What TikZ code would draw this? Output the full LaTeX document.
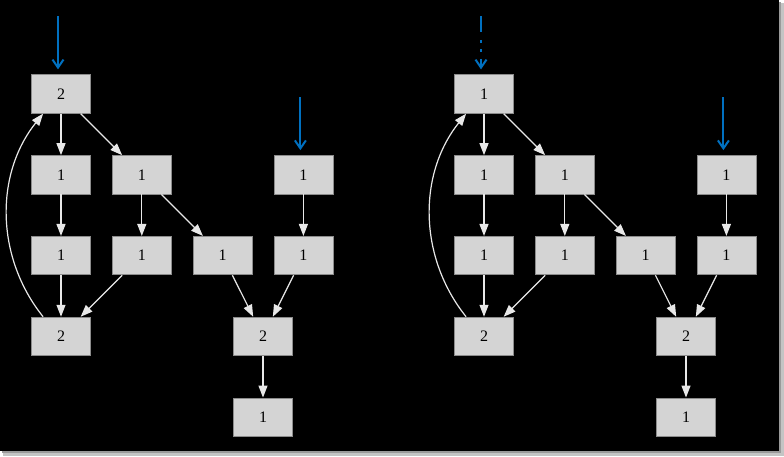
\documentclass[tikz,border=0pt]{standalone}
\usepackage{fontspec}
\setmainfont{Liberation Serif}
\usepackage{tikz}
\usetikzlibrary{arrows.meta,positioning,calc}
\definecolor{nodefill}{HTML}{D4D4D4}
\definecolor{nodedraw}{HTML}{8C8C8C}
\definecolor{edgec}{HTML}{E8E8E8}
\definecolor{entryc}{HTML}{0070C0}
\definecolor{shadowa}{HTML}{C4C4C4}
\definecolor{shadowb}{HTML}{9A9A9A}
\tikzset{
  box/.style={draw=nodedraw,fill=nodefill,minimum width=59pt,minimum height=38.5pt,
    inner sep=0pt,font=\fontsize{16}{16}\selectfont,text=black,line width=0.8pt},
  edge/.style={-{Triangle[length=12pt,width=9pt]},line width=1.2pt,color=edgec},
  entry/.style={-{Straight Barb[length=8pt,width=11pt]},line width=2pt,color=entryc,
    shorten >=5pt},
  entrydot/.style={entry,dash pattern=on 16pt off 7.5pt on 3pt off 6.5pt on 3pt off 6.5pt on 40pt}
}
\begin{document}
\begin{tikzpicture}[x=1pt,y=-1pt]
  \useasboundingbox (0,0) rectangle (784,456);
  \fill[shadowa] (3,3) rectangle (784,456);
  \fill[shadowb] (2,2) rectangle (781,453);
  \fill[black] (0,0) rectangle (779,451);
  \foreach \g/\dx/\tv/\es in {L/0/2/entry,R/423/1/entrydot}{
    \node[box] (\g1a) at (61+\dx,94) {\tv};
    \node[box,below=41.5pt of \g1a] (\g2a) {1};
    \node[box,right=21pt of \g2a] (\g2b) {1};
    \node[box,below=41.5pt of \g2a] (\g3a) {1};
    \node[box,right=21pt of \g3a] (\g3b) {1};
    \node[box,right=21pt of \g3b] (\g3c) {1};
    \node[box,right=21pt of \g3c] (\g3d) {1};
    \node[box,above=41.5pt of \g3d] (\g2d) {1};
    \node[box,below=41.5pt of \g3a] (\g4a) {2};
    \coordinate (\g mid) at ($(\g3c.south)!0.5!(\g3d.south)$);
    \node[box,below=41.5pt of \g mid] (\g4c) {2};
    \node[box,below=41.5pt of \g4c] (\g5c) {1};
    \draw[edge] (\g1a) -- (\g2a);
    \draw[edge] (\g1a) -- (\g2b);
    \draw[edge] (\g2a) -- (\g3a);
    \draw[edge] (\g2b) -- (\g3b);
    \draw[edge] (\g2b) -- (\g3c);
    \draw[edge] (\g2d) -- (\g3d);
    \draw[edge] (\g3a) -- (\g4a);
    \draw[edge] (\g3b) -- (\g4a);
    \draw[edge] (\g3c) -- (\g4c);
    \draw[edge] (\g3d) -- (\g4c);
    \draw[edge] (\g4c) -- (\g5c);
    \draw[edge] ([xshift=12pt]\g4a.north west) .. controls +(-48,-60) and +(-48,60)
      .. ([xshift=12pt]\g1a.south west);
    \coordinate (\g s1) at ([xshift=-3pt,yshift=58pt]\g1a.north);
    \coordinate (\g s2) at ([xshift=-3pt,yshift=58pt]\g2d.north);
    \draw[\es] (\g s1) -- (\g s1 |- \g1a.north);
    \draw[entry] (\g s2) -- (\g s2 |- \g2d.north);
  }
\end{tikzpicture}
\end{document}
